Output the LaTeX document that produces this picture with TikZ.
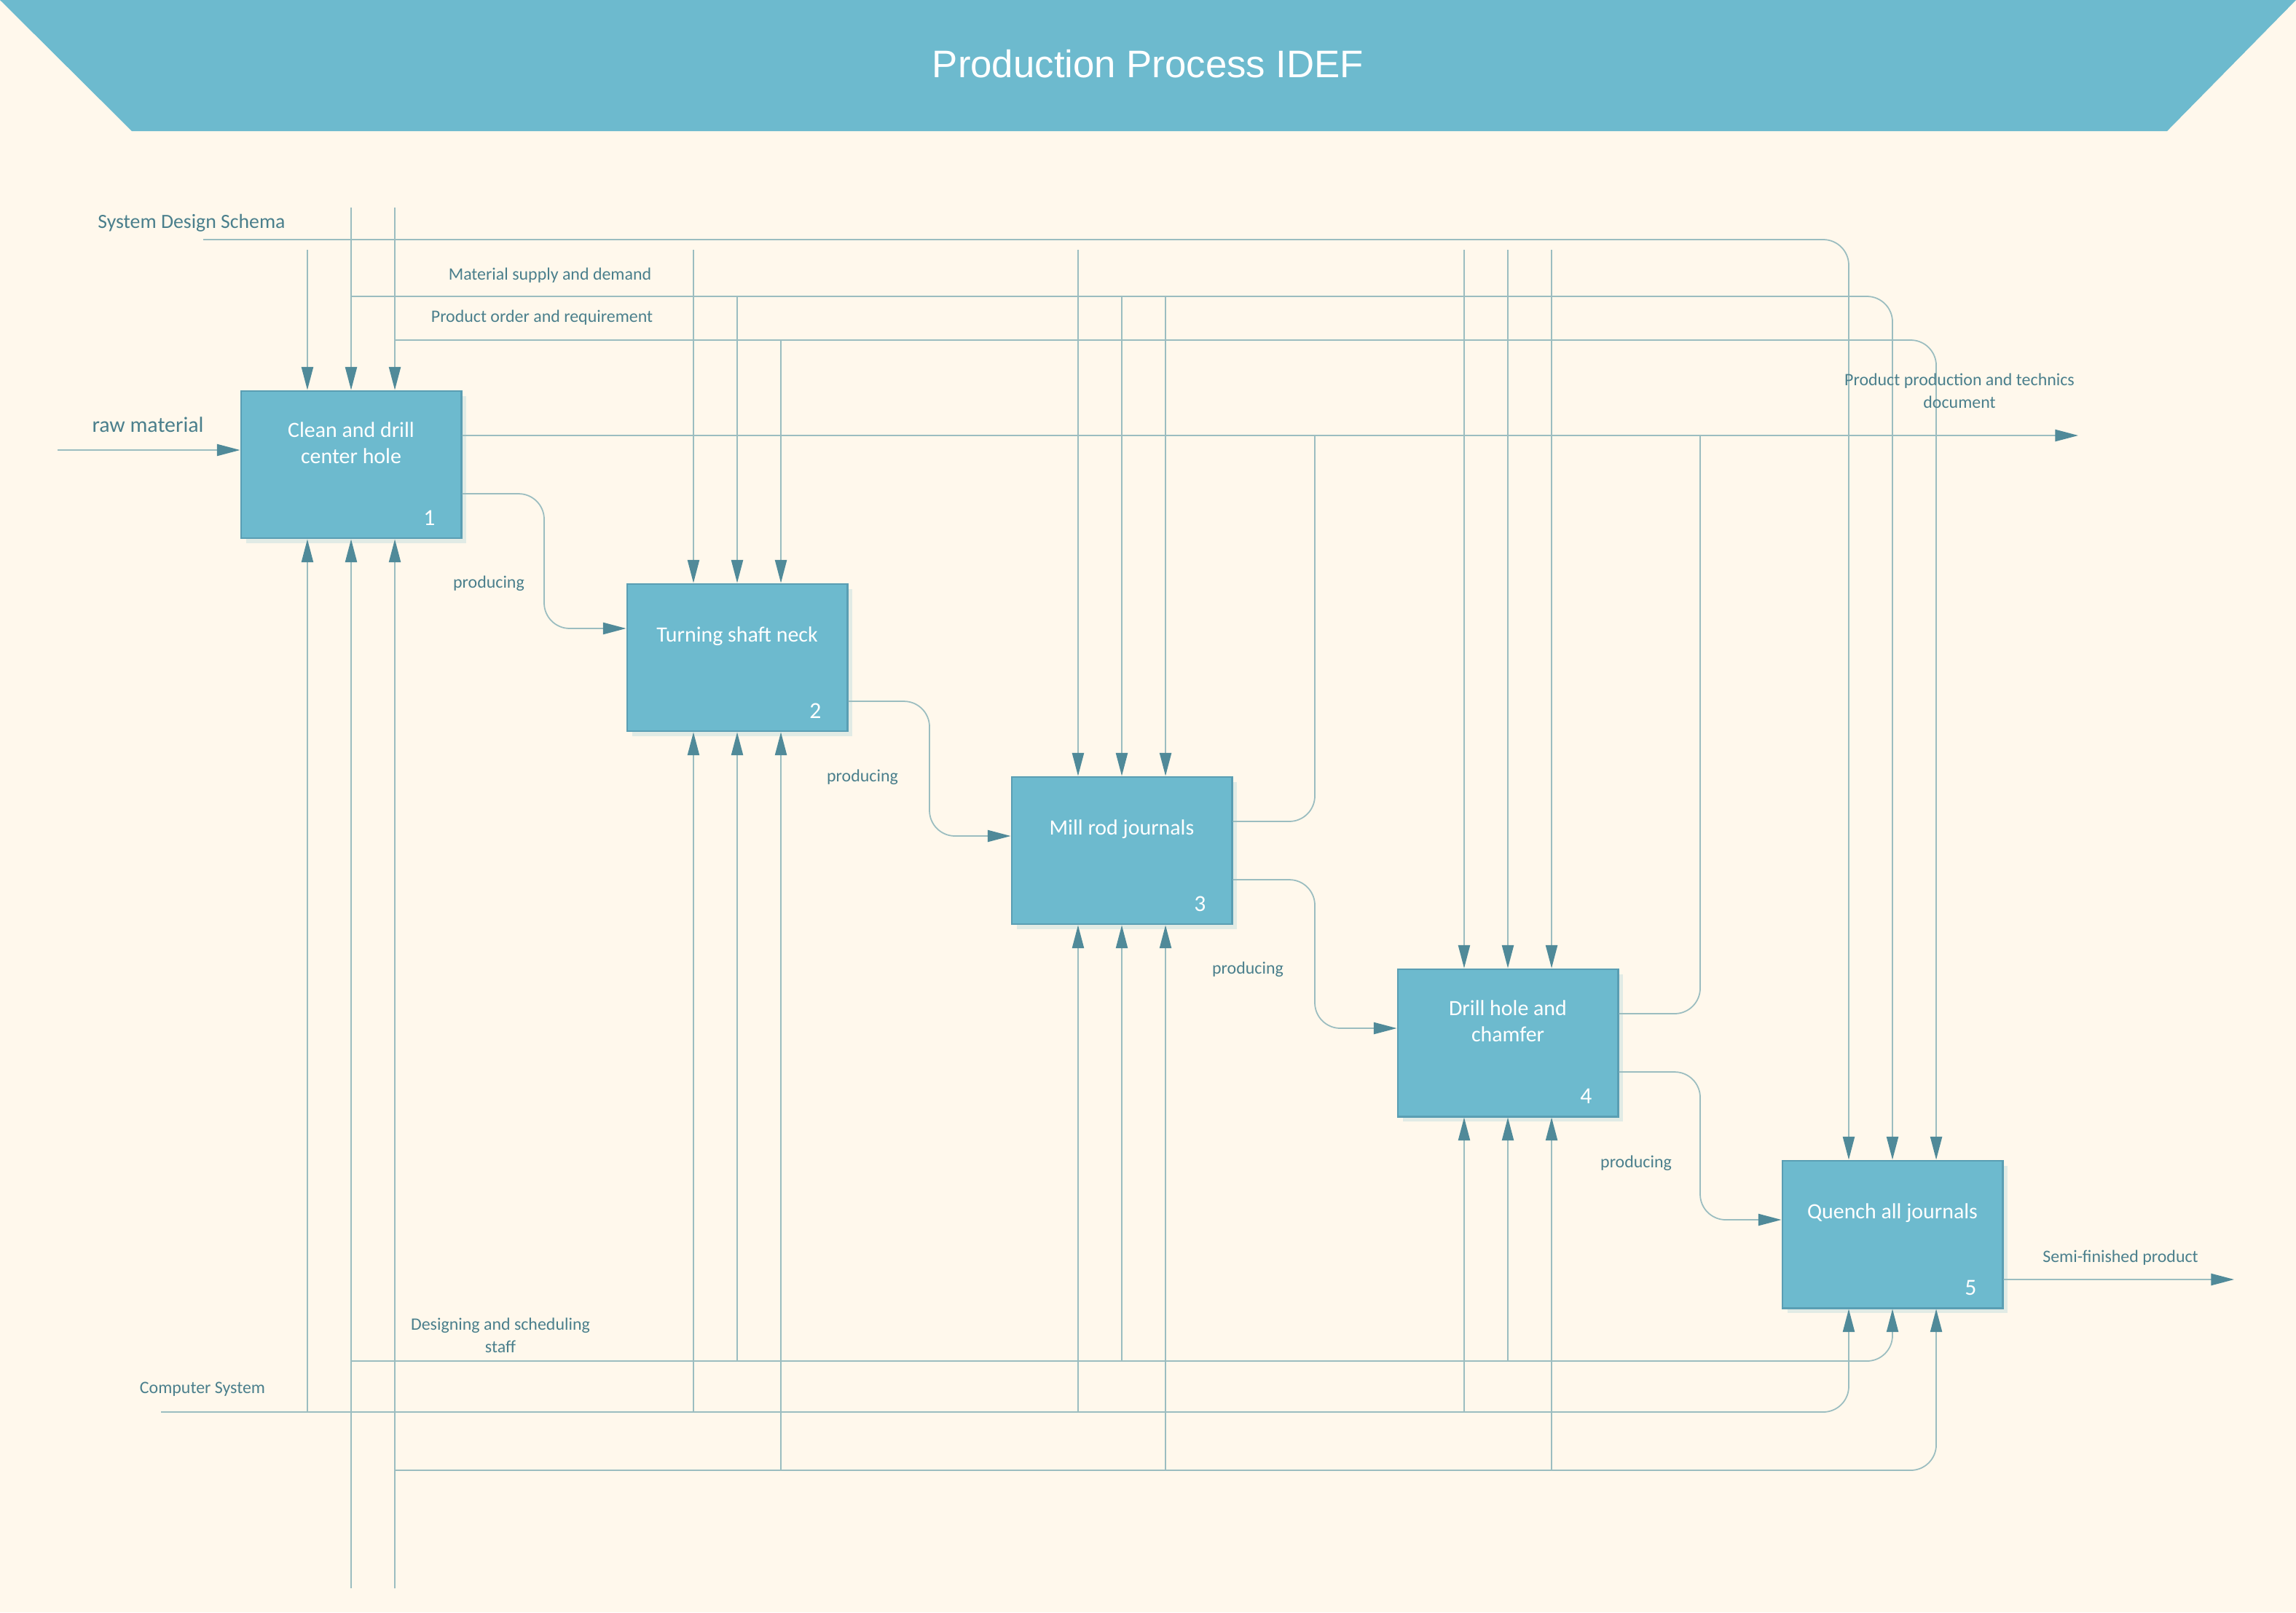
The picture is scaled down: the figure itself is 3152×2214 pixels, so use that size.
\documentclass[tikz,border=0pt]{standalone}
\usepackage{fontspec}
\setmainfont{Carlito}
\newfontfamily\titlefont{Liberation Sans}
\usetikzlibrary{arrows.meta,calc,shadows}
\definecolor{bgcream}{HTML}{FFF8EC}
\definecolor{idefblue}{HTML}{6DBACE}
\definecolor{idefedge}{HTML}{5A9EB3}
\definecolor{idefshade}{HTML}{E1EBE5}
\definecolor{idefline}{HTML}{9BBDC0}
\definecolor{ideftip}{HTML}{508A99}
\definecolor{ideftext}{HTML}{4A7F8C}

\begin{document}
\begin{tikzpicture}[x=0.01cm,y=-0.01cm,
    box/.style={draw=idefedge,line width=0.8pt,fill=idefblue,minimum width=3.02cm,minimum height=2.02cm,inner sep=0pt,
        general shadow={fill=idefshade,shadow xshift=0.07cm,shadow yshift=-0.07cm}},
    boxtext/.style={text=white,align=center,font=\fontsize{8.5}{10.2}\selectfont},
    boxnum/.style={text=white,font=\fontsize{9}{10}\selectfont},
    lbl/.style={text=ideftext,align=center,font=\fontsize{6.8}{8.8}\selectfont},
    line/.style={draw=idefline,line width=0.5pt,rounded corners=0.35cm},
    arr/.style={line,-{Triangle[length=9pt,width=4.6pt,color=ideftip]}}]
    \def\idefbox#1#2#3{
    \node[box] (b#1) at #2 {};
    \node[boxtext] (t#1) at ([yshift=-0.73cm]b#1.north) {#3};
    \node[boxnum] (n#1) at ([shift={(-0.45cm,0.29cm)}]b#1.south east) {#1};
    \foreach \s/\d in {l/-0.6cm,m/0cm,r/0.6cm}{
        \coordinate (b#1n\s) at ([xshift=\d]b#1.north);
        \coordinate (b#1s\s) at ([xshift=\d]b#1.south);
    }
    }

    \fill[bgcream] (0,0) rectangle (3152,2214);
    \useasboundingbox (0,0) rectangle (3152,2214);

    \fill[idefblue] (0,0) -- (3152,0) -- (2975,180) -- (181,180) -- cycle;
    \node[text=white,font=\titlefont\fontsize{15}{18}\selectfont] (ttl) at (1576,88) {Production Process IDEF};

    \idefbox{1}{(482,638)}{Clean and drill\\center hole}
    \idefbox{2}{(1012,903)}{Turning shaft neck}
    \idefbox{3}{(1540,1168)}{Mill rod journals}
    \idefbox{4}{(2070,1432)}{Drill hole and\\chamfer}
    \idefbox{5}{(2598,1695)}{Quench all journals}

    \foreach \i/\j in {1/2,2/3,3/4,4/5}
        \coordinate (m\i\j) at ($(b\i.east)!0.5!(b\j.west)$);
    \coordinate (b1in) at ([yshift=0.2cm]b1.west);
    \coordinate (b2in) at ([yshift=0.4cm]b2.west);
    \foreach \i in {3,4,5}
        \coordinate (b\i in) at ([yshift=0.2cm]b\i.west);
    \foreach \i in {1,3,4}{
        \coordinate (b\i doc) at ([yshift=0.4cm]b\i.east);
        \coordinate (b\i out) at ([yshift=-0.4cm]b\i.east);
    }
    \coordinate (b2out) at ([yshift=-0.6cm]b2.east);
    \coordinate (b5out) at ([yshift=-0.62cm]b5.east);

    \coordinate (ctop) at (0,343);
    \coordinate (sds) at (279,329);
    \coordinate (msd) at (482,407);
    \coordinate (por) at (542,467);
    \coordinate (topm) at (482,285);
    \coordinate (topr) at (542,285);
    \coordinate (cs) at (221,1939);
    \coordinate (dss) at (482,1869);
    \coordinate (low) at (542,2019);
    \coordinate (botm) at (482,2181);
    \coordinate (botr) at (542,2181);
    \coordinate (raw) at (79,618);
    \coordinate (docend) at (2853,598);
    \coordinate (semi) at (3067,1757);

    \draw[arr] (b1nl |- ctop) -- (b1nl);
    \draw[arr] (topm) -- (b1nm);
    \draw[arr] (topr) -- (b1nr);
    \draw[arr] (sds) -| (b5nl);
    \draw[arr] (msd) -| (b5nm);
    \draw[arr] (por) -| (b5nr);
    \foreach \i in {2,3,4}
        \draw[arr] (b\i nl |- ctop) -- (b\i nl);
    \draw[arr] (b2nm |- msd) -- (b2nm);
    \draw[arr] (b2nr |- por) -- (b2nr);
    \draw[arr] (b3nm |- msd) -- (b3nm);
    \draw[arr] (b3nr |- msd) -- (b3nr);
    \draw[arr] (b4nm |- ctop) -- (b4nm);
    \draw[arr] (b4nr |- ctop) -- (b4nr);

    \draw[arr] (botm) -- (b1sm);
    \draw[arr] (botr) -- (b1sr);
    \draw[arr] (b1sl |- cs) -- (b1sl);
    \draw[arr] (cs) -| (b5sl);
    \draw[arr] (dss) -| (b5sm);
    \draw[arr] (low) -| (b5sr);
    \foreach \i in {2,3,4}{
        \draw[arr] (b\i sl |- cs) -- (b\i sl);
        \draw[arr] (b\i sm |- dss) -- (b\i sm);
        \draw[arr] (b\i sr |- low) -- (b\i sr);
    }

    \draw[arr] (raw) -- (b1in);
    \draw[arr] (b1doc) -- (docend);
    \draw[line] (b3doc) -| (m34 |- docend);
    \draw[line] (b4doc) -| (m45 |- docend);
    \draw[arr] (b1out) -| (m12 |- b2in) -- (b2in);
    \draw[arr] (b2out) -| (m23 |- b3in) -- (b3in);
    \draw[arr] (b3out) -| (m34 |- b4in) -- (b4in);
    \draw[arr] (b4out) -| (m45 |- b5in) -- (b5in);
    \draw[arr] (b5out) -- (semi);

    \node[lbl,font=\fontsize{7.9}{9}\selectfont] (sdsl) at (263,306) {System Design Schema};
    \node[lbl] (msdl) at (755,378) {Material supply and demand};
    \node[lbl] (porl) at (744,436) {Product order and requirement};
    \node[lbl] (docl) at (2690,537) {Product production and technics\\document};
    \node[lbl,font=\fontsize{8.5}{10}\selectfont] (rawl) at (203,583) {raw material};
    \node[lbl] (p12) at (671,801) {producing};
    \node[lbl] (p23) at (1184,1067) {producing};
    \node[lbl] (p34) at (1713,1331) {producing};
    \node[lbl] (p45) at (2246,1597) {producing};
    \node[lbl] (semil) at (2911,1727) {Semi-finished product};
    \node[lbl] (dssl) at (687,1834) {Designing and scheduling\\staff};
    \node[lbl] (csl) at (278,1908) {Computer System};

\end{tikzpicture}
\end{document}
